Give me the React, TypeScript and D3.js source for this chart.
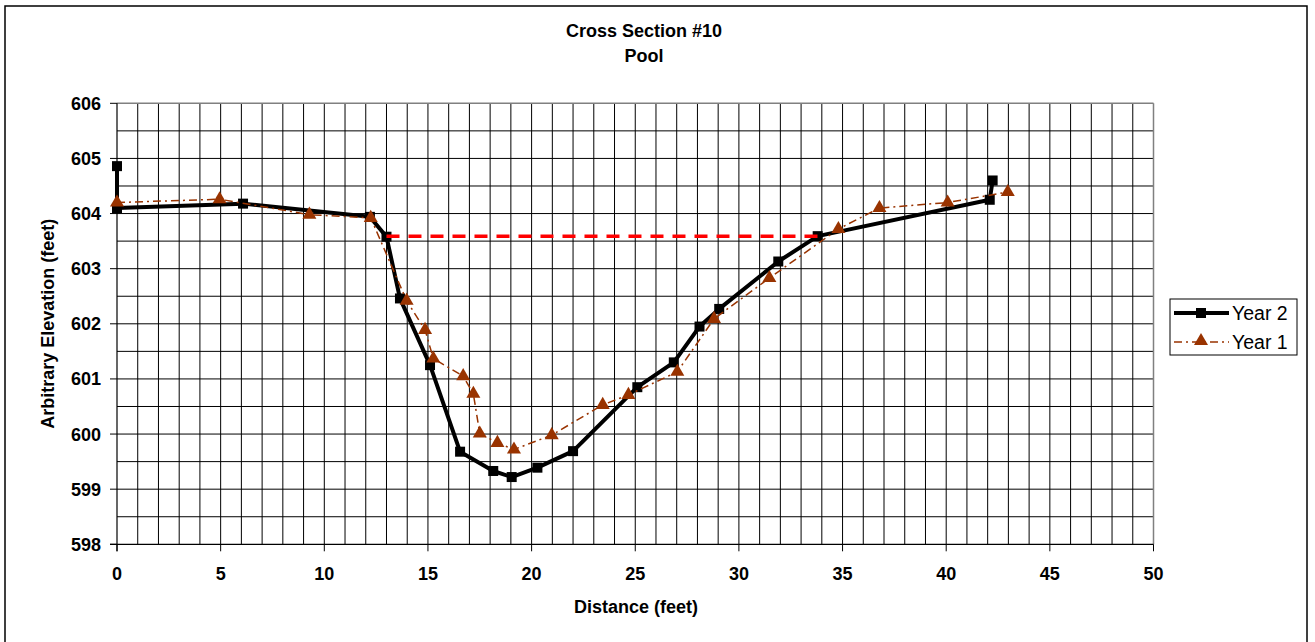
import React from "react";
import * as d3 from "d3";

const title1 = "Cross Section #10";
const title2 = "Pool";
const xLabel = "Distance (feet)";
const yLabel = "Arbitrary Elevation (feet)";

const xTicks = [0, 5, 10, 15, 20, 25, 30, 35, 40, 45, 50];
const yTicks = [598, 599, 600, 601, 602, 603, 604, 605, 606];

const year2X = [0, 0, 6.08, 12.2, 13.0, 13.65, 15.1, 16.55, 18.15, 19.04, 20.28, 22.0, 25.1, 26.86, 28.1, 29.05, 31.9, 33.8, 42.1, 42.24];
const year2Y = [604.86, 604.1, 604.18, 603.94, 603.58, 602.46, 601.25, 599.68, 599.33, 599.22, 599.39, 599.69, 600.85, 601.3, 601.95, 602.27, 603.13, 603.59, 604.25, 604.6];

const year1X = [0, 4.95, 9.28, 12.24, 13.97, 14.86, 15.26, 16.7, 17.19, 17.5, 18.35, 19.15, 20.97, 23.43, 24.67, 27.03, 28.8, 31.47, 34.8, 36.78, 40.07, 42.97];
const year1Y = [604.2, 604.26, 603.98, 603.92, 602.42, 601.89, 601.37, 601.05, 600.73, 600.01, 599.84, 599.72, 599.98, 600.53, 600.71, 601.13, 602.09, 602.83, 603.72, 604.1, 604.2, 604.39];

const waterX = [13.0, 33.8];
const waterY = [603.59, 603.59];

const BROWN = "#993300";
const FONT = "'Liberation Sans', Arial, sans-serif";

export default function App() {
  const W = 1315, H = 642;
  const left = 117, right = 1153.5, top = 103.3, bottom = 544.3;
  const x = d3.scaleLinear().domain([0, 50]).range([left, right]);
  const y = d3.scaleLinear().domain([598, 606]).range([bottom, top]);

  const y2 = year2X.map((v, i) => [v, year2Y[i]] as [number, number]);
  const y1 = year1X.map((v, i) => [v, year1Y[i]] as [number, number]);
  const wl = waterX.map((v, i) => [v, waterY[i]] as [number, number]);
  const line = d3.line<[number, number]>().x(d => x(d[0])).y(d => y(d[1]));

  const vGrid = d3.range(1, 50);
  const hGrid = d3.range(598.5, 606, 0.5);
  const tri = d3.symbol().type(d3.symbolTriangle).size(85)() as string;

  const legX = 1170, legY = 299;

  return (
    <svg width={W} height={H} style={{ position: "absolute", left: 0, top: 0, background: "#fff" }} fontFamily={FONT}>
      <rect x={0} y={0} width={W} height={H} fill="#fff" />
      <rect x={5} y={6} width={1302} height={660} fill="none" stroke="#000" strokeWidth={1.5} />
      <text x={644} y={37} textAnchor="middle" fontSize={18} fontWeight="bold">{title1}</text>
      <text x={644} y={62} textAnchor="middle" fontSize={18} fontWeight="bold">{title2}</text>

      {vGrid.map(v => (
        <line key={"v" + v} x1={x(v)} x2={x(v)} y1={top} y2={bottom} stroke="#000" strokeWidth={1} />
      ))}
      {hGrid.map(v => (
        <line key={"h" + v} x1={left} x2={right} y1={y(v)} y2={y(v)} stroke="#000" strokeWidth={1} />
      ))}
      <line x1={left} x2={right} y1={top} y2={top} stroke="#808080" strokeWidth={1.5} />
      <line x1={right} x2={right} y1={top} y2={bottom} stroke="#808080" strokeWidth={1.5} />
      <line x1={left} x2={left} y1={top} y2={bottom + 7} stroke="#000" strokeWidth={1.2} />
      <line x1={left - 7} x2={right} y1={bottom} y2={bottom} stroke="#000" strokeWidth={1.2} />

      {yTicks.map(t => (
        <g key={"yt" + t}>
          <line x1={left - 7} x2={left} y1={y(t)} y2={y(t)} stroke="#000" strokeWidth={1} />
          <text x={101} y={y(t) + 6.5} textAnchor="end" fontSize={18} fontWeight="bold">{t}</text>
        </g>
      ))}
      {xTicks.map(t => (
        <g key={"xt" + t}>
          <line x1={x(t)} x2={x(t)} y1={bottom} y2={bottom + 7} stroke="#000" strokeWidth={1} />
          <text x={x(t)} y={580} textAnchor="middle" fontSize={18} fontWeight="bold">{t}</text>
        </g>
      ))}
      <text x={636} y={613} textAnchor="middle" fontSize={18} fontWeight="bold">{xLabel}</text>
      <text transform={`translate(54,${(top + bottom) / 2}) rotate(-90)`} textAnchor="middle" fontSize={18} fontWeight="bold">{yLabel}</text>

      <path d={line(y2) || ""} fill="none" stroke="#000" strokeWidth={4} strokeLinejoin="round" />
      {y2.map((d, i) => (
        <rect key={"s" + i} x={x(d[0]) - 5} y={y(d[1]) - 5} width={10} height={10} fill="#000" />
      ))}
      <path d={line(y1) || ""} fill="none" stroke={BROWN} strokeWidth={1.5} strokeDasharray="8,4,2,4" />
      {y1.map((d, i) => (
        <path key={"t" + i} d={tri} transform={`translate(${x(d[0])},${y(d[1])})`} fill={BROWN} />
      ))}
      <path d={line(wl) || ""} fill="none" stroke="#ff0000" strokeWidth={3.5} strokeDasharray="13,9" />

      <rect x={legX} y={legY} width={127} height={56} fill="#fff" stroke="#000" strokeWidth={1} />
      <line x1={legX + 4} x2={legX + 59} y1={legY + 14} y2={legY + 14} stroke="#000" strokeWidth={4} />
      <rect x={legX + 26} y={legY + 9} width={10} height={10} fill="#000" />
      <text x={legX + 62} y={legY + 21} fontSize={19.5}>Year 2</text>
      <line x1={legX + 4} x2={legX + 59} y1={legY + 43} y2={legY + 43} stroke={BROWN} strokeWidth={1.5} strokeDasharray="8,4,2,4" />
      <path d={tri} transform={`translate(${legX + 31},${legY + 42})`} fill={BROWN} />
      <text x={legX + 62} y={legY + 50} fontSize={19.5}>Year 1</text>
    </svg>
  );
}
